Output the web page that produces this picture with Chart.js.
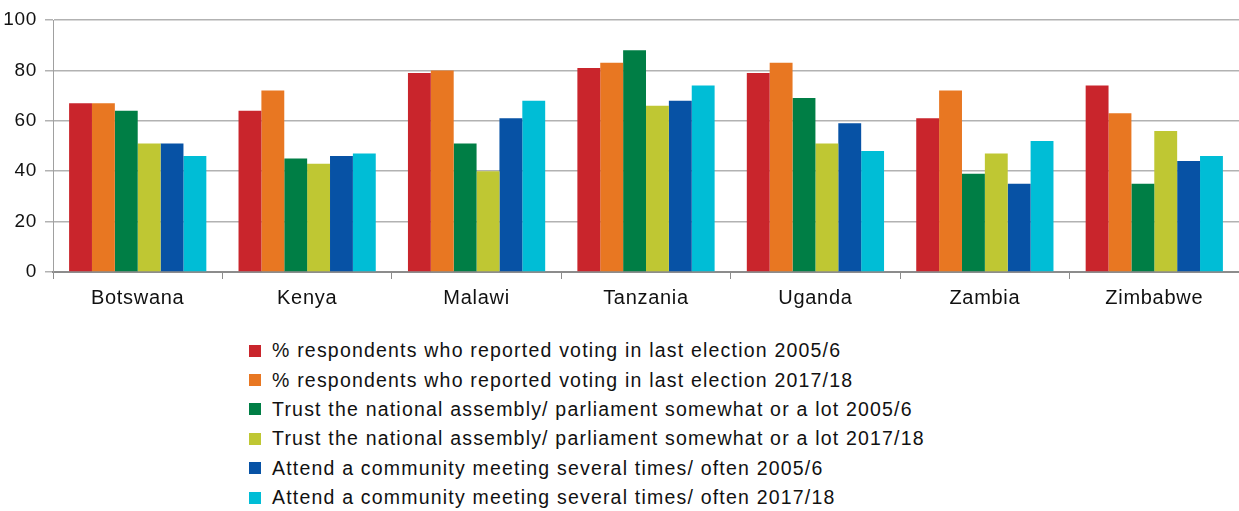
<!DOCTYPE html>
<html>
<head>
<meta charset="utf-8">
<script src="https://cdn.jsdelivr.net/npm/chart.js@4.4.1/dist/chart.umd.min.js"></script>
<style>
  html, body { margin: 0; padding: 0; background: #fff; }
  body { width: 1239px; height: 511px; position: relative; overflow: hidden; }
  .chart-box { position: absolute; left: 0; top: 0; width: 1239px; height: 317px; }
  #legend { position: absolute; left: 249px; top: 336px; margin: 0; padding: 0; list-style: none;
    font-family: "Liberation Sans", Arial, sans-serif;
    font-size: 19.5px; letter-spacing: 1.2px; color: #111; }
  #legend li { height: 29.4px; line-height: 25px; display: flex; align-items: center; white-space: nowrap; }
  #legend .sw { width: 12px; height: 12px; margin-right: 11px; flex: none; }
</style>
</head>
<body>
<div class="chart-box"><canvas id="chart"></canvas></div>
<ul id="legend"></ul>
<script>
// categories and series
const countries = ['Botswana', 'Kenya', 'Malawi', 'Tanzania', 'Uganda', 'Zambia', 'Zimbabwe'];

const seriesNames = [
  '% respondents who reported voting in last election 2005/6',
  '% respondents who reported voting in last election 2017/18',
  'Trust the national assembly/ parliament somewhat or a lot 2005/6',
  'Trust the national assembly/ parliament somewhat or a lot 2017/18',
  'Attend a community meeting several times/ often 2005/6',
  'Attend a community meeting several times/ often 2017/18'
];

const voting2005 = [67, 64, 79, 81, 79, 61, 74];
const voting2017 = [67, 72, 80, 83, 83, 72, 63];
const trust2005 = [64, 45, 51, 88, 69, 39, 35];
const trust2017 = [51, 43, 40, 66, 51, 47, 56];
const meeting2005 = [51, 46, 61, 68, 59, 35, 44];
const meeting2017 = [46, 47, 68, 74, 48, 52, 46];

const yTicks = [0, 20, 40, 60, 80, 100];

const colors = ['#C9252C', '#E87722', '#007E45', '#BFC733', '#0752A5', '#00BDD6'];
const seriesValues = [voting2005, voting2017, trust2005, trust2017, meeting2005, meeting2017];

const datasets = seriesValues.map((vals, i) => ({
  label: seriesNames[i],
  data: vals,
  backgroundColor: colors[i],
  borderWidth: 0,
  barPercentage: 1.0,
  categoryPercentage: 0.81
}));

// the category labels in the picture are slightly spread out
const spacedLabels = {
  id: 'spacedLabels',
  beforeDraw(chart) { chart.ctx.letterSpacing = '0.7px'; },
  afterDraw(chart) { chart.ctx.letterSpacing = '0px'; }
};

const ctx = document.getElementById('chart');
const chart = new Chart(ctx, {
  type: 'bar',
  data: { labels: countries, datasets: datasets },
  plugins: [spacedLabels],
  options: {
    responsive: true,
    maintainAspectRatio: false,
    animation: false,
    layout: { padding: { top: 20, right: 0, bottom: 0, left: 0 } },
    plugins: {
      legend: { display: false },
      tooltip: { enabled: false }
    },
    scales: {
      x: {
        offset: true,
        grid: {
          offset: true,
          drawOnChartArea: false,
          drawTicks: true,
          tickLength: 7,
          color: '#8c8c8c',
          lineWidth: 1
        },
        border: { color: '#8c8c8c', width: 2 },
        ticks: {
          color: '#111',
          padding: 7,
          font: { family: 'Liberation Sans, Arial, sans-serif', size: 20 }
        }
      },
      y: {
        min: 0,
        max: 100,
        afterBuildTicks: function(scale) {
          scale.ticks = yTicks.map(v => ({ value: v }));
        },
        afterFit: function(scale) { scale.width = 53; },
        grid: {
          color: '#b2b2b2',
          lineWidth: 1.5,
          tickLength: 8
        },
        border: { color: '#a0a0a0', width: 1 },
        ticks: {
          color: '#111',
          padding: 8,
          font: { family: 'Liberation Sans, Arial, sans-serif', size: 19 }
        }
      }
    }
  }
});

// legend, one item per row
const legendEl = document.getElementById('legend');
chart.data.datasets.forEach(ds => {
  const li = document.createElement('li');
  const sw = document.createElement('span');
  sw.className = 'sw';
  sw.style.background = ds.backgroundColor;
  li.appendChild(sw);
  li.appendChild(document.createTextNode(ds.label));
  legendEl.appendChild(li);
});
</script>
</body>
</html>
